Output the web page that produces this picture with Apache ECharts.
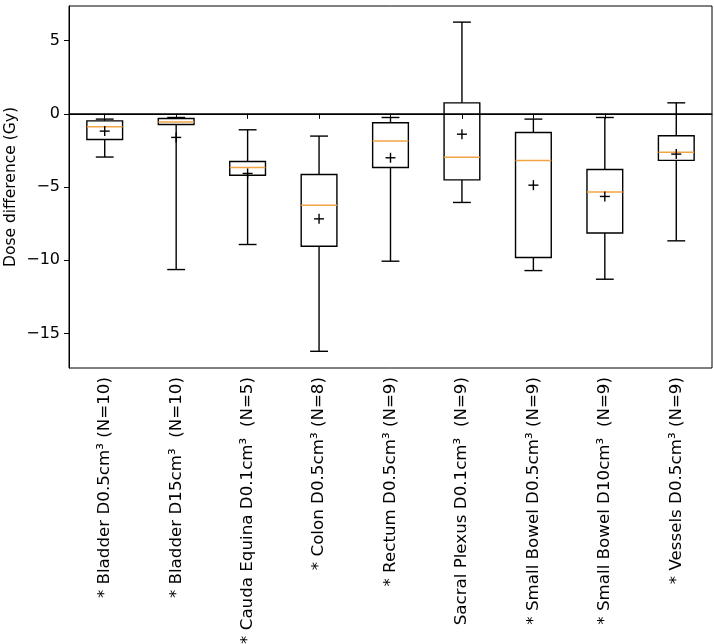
<!DOCTYPE html>
<html>
<head>
<meta charset="utf-8">
<script src="https://cdn.jsdelivr.net/npm/echarts@6/dist/echarts.min.js"></script>
<style>
html,body{margin:0;padding:0;background:#fff;}
#chart{width:714px;height:644px;}
</style>
</head>
<body>
<div id="chart"></div>
<script>
const categories = [
  '* Bladder D0.5cm³ (N=10)',
  '* Bladder D15cm³  (N=10)',
  '* Cauda Equina D0.1cm³  (N=5)',
  '* Colon D0.5cm³ (N=8)',
  '* Rectum D0.5cm³ (N=9)',
  'Sacral Plexus D0.1cm³  (N=9)',
  '* Small Bowel D0.5cm³ (N=9)',
  '* Small Bowel D10cm³  (N=9)',
  '* Vessels D0.5cm³ (N=9)'
];
const whiskerLow  = [-2.95, -10.63, -8.92, -16.21, -10.06, -6.05, -10.70, -11.29, -8.67];
const q1          = [-1.75,  -0.73, -4.19,  -9.04,  -3.66, -4.51,  -9.81,  -8.13, -3.18];
const median      = [-0.89,  -0.55, -3.66,  -6.24,  -1.86, -2.96,  -3.18,  -5.33, -2.62];
const q3          = [-0.48,  -0.32, -3.25,  -4.14,  -0.61,  0.75,  -1.27,  -3.80, -1.50];
const whiskerHigh = [-0.36,  -0.25, -1.09,  -1.52,  -0.25,  6.26,  -0.36,  -0.25,  0.75];
const means       = [-1.18,  -1.61, -4.07,  -7.17,  -3.00, -1.39,  -4.87,  -5.64, -2.75];
const yTicks = [-15, -10, -5, 0, 5];

const boxData = categories.map((c, i) => [i, whiskerLow[i], q1[i], median[i], q3[i], whiskerHigh[i], means[i]]);

const chart = echarts.init(document.getElementById('chart'));
const lw = 1.4;
function renderBox(params, api) {
  const idx = api.value(0);
  const band = api.size([1, 0])[0];
  const bw = band * 0.5, cw = band * 0.25, mw = 5;
  const pLow = api.coord([idx, api.value(1)]);
  const pQ1 = api.coord([idx, api.value(2)]);
  const pMed = api.coord([idx, api.value(3)]);
  const pQ3 = api.coord([idx, api.value(4)]);
  const pHigh = api.coord([idx, api.value(5)]);
  const pMean = api.coord([idx, api.value(6)]);
  const x = pQ1[0];
  const st = {stroke: '#000', lineWidth: lw, fill: 'none'};
  return {
    type: 'group',
    children: [
      {type: 'line', shape: {x1: x, y1: pHigh[1], x2: x, y2: pQ3[1]}, style: st},
      {type: 'line', shape: {x1: x, y1: pQ1[1], x2: x, y2: pLow[1]}, style: st},
      {type: 'line', shape: {x1: x - cw/2, y1: pHigh[1], x2: x + cw/2, y2: pHigh[1]}, style: st},
      {type: 'line', shape: {x1: x - cw/2, y1: pLow[1], x2: x + cw/2, y2: pLow[1]}, style: st},
      {type: 'rect', shape: {x: x - bw/2, y: pQ3[1], width: bw, height: pQ1[1] - pQ3[1]}, style: st},
      {type: 'line', shape: {x1: x - bw/2, y1: pMed[1], x2: x + bw/2, y2: pMed[1]}, style: {stroke: '#f2a444', lineWidth: 1.5}},
      {type: 'line', shape: {x1: x - mw, y1: pMean[1], x2: x + mw, y2: pMean[1]}, style: st},
      {type: 'line', shape: {x1: x, y1: pMean[1] - mw, x2: x, y2: pMean[1] + mw}, style: st}
    ]
  };
}

chart.setOption({
  animation: false,
  backgroundColor: '#fff',
  grid: {left: 69, right: 2, top: 6, bottom: 276, containLabel: false, outerBoundsMode: 'none',
    show: true, borderColor: '#000', borderWidth: 1, backgroundColor: 'transparent'},
  xAxis: {
    type: 'category',
    data: categories,
    boundaryGap: true,
    axisLine: {show: true, lineStyle: {color: '#000', width: 1}},
    axisTick: {show: true, alignWithLabel: true, length: 5, lineStyle: {color: '#000'}},
    axisLabel: {rotate: 90, interval: 0, color: '#000', fontSize: 16.7, fontFamily: 'DejaVu Sans', margin: 9},
    splitLine: {show: false}
  },
  yAxis: {
    type: 'value',
    min: -17.35,
    max: 7.36,
    name: 'Dose difference (Gy)',
    nameLocation: 'middle',
    nameGap: 50,
    nameMoveOverlap: false,
    nameTextStyle: {color: '#000', fontSize: 15.5, fontFamily: 'DejaVu Sans'},
    axisLine: {show: true, lineStyle: {color: '#000', width: 1}},
    axisTick: {show: true, length: 5, lineStyle: {color: '#000'}, customValues: yTicks},
    axisLabel: {color: '#000', fontSize: 16, fontFamily: 'DejaVu Sans', margin: 9, customValues: yTicks,
      formatter: v => String(v).replace('-', '\u2212')},
    splitLine: {show: false}
  },
  series: [
    {
      type: 'custom',
      renderItem: renderBox,
      data: boxData,
      encode: {x: 0, y: [1, 2, 3, 4, 5, 6]},
      silent: true,
      z: 3
    },
    {
      type: 'line',
      data: [],
      silent: true,
      markLine: {
        silent: true,
        symbol: 'none',
        label: {show: false},
        lineStyle: {color: '#000', width: 1.6, type: 'solid'},
        data: [{yAxis: 0}]
      },
      z: 2
    }
  ]
});
</script>
</body>
</html>
